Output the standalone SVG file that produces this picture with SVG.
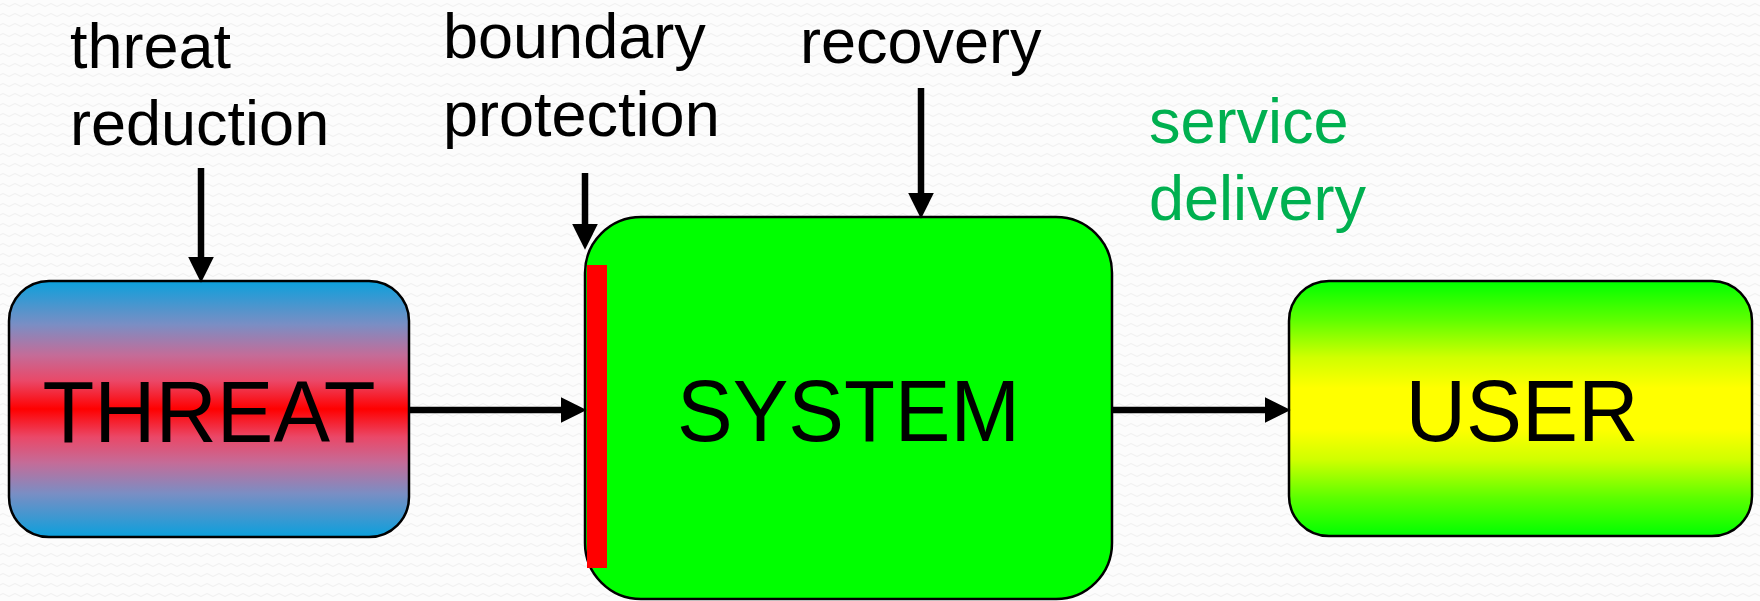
<svg xmlns="http://www.w3.org/2000/svg" width="1760" height="601" viewBox="0 0 1760 601">
<defs>
<pattern id="bgwave" width="12" height="10" patternUnits="userSpaceOnUse">
<rect width="12" height="10" fill="#fcfcfc"/>
<path d="M0,5 Q3,2 6,5 T12,5" fill="none" stroke="#efefef" stroke-width="1"/>
</pattern>
<linearGradient id="gThreat" x1="0" y1="0" x2="0" y2="1">
<stop offset="0" stop-color="#0ba0dc"/>
<stop offset="0.17" stop-color="#7a8ec4"/>
<stop offset="0.29" stop-color="#c46c98"/>
<stop offset="0.39" stop-color="#ea4868"/>
<stop offset="0.5" stop-color="#ff0000"/>
<stop offset="0.61" stop-color="#ea4868"/>
<stop offset="0.71" stop-color="#c46c98"/>
<stop offset="0.83" stop-color="#7a8ec4"/>
<stop offset="1" stop-color="#0ba0dc"/>
</linearGradient>
<linearGradient id="gUser" x1="0" y1="0" x2="0" y2="1">
<stop offset="0" stop-color="#00ff00"/>
<stop offset="0.15" stop-color="#5cff00"/>
<stop offset="0.3" stop-color="#d0ff00"/>
<stop offset="0.42" stop-color="#ffff00"/>
<stop offset="0.58" stop-color="#ffff00"/>
<stop offset="0.7" stop-color="#d0ff00"/>
<stop offset="0.85" stop-color="#5cff00"/>
<stop offset="1" stop-color="#00ff00"/>
</linearGradient>
<marker id="ah" markerUnits="userSpaceOnUse" markerWidth="26" markerHeight="26" viewBox="0 0 24 24" refX="4" refY="12" orient="auto">
<path d="M0,0 L24,12 L0,24 Z" fill="#000"/>
</marker>
</defs>
<style>
.lbl{font-family:"Liberation Sans",Arial,sans-serif;font-size:63px;fill:#000}
.grn{fill:#00b050}
.big{font-family:"Liberation Sans",Arial,sans-serif;font-size:88px;fill:#000;text-anchor:middle}
.box{stroke:#000;stroke-width:2.5}
.conn{stroke:#000;stroke-width:6.5;fill:none;marker-end:url(#ah)}
</style>
<rect width="1760" height="601" fill="url(#bgwave)"/>

<g id="label-threat-reduction">
<text class="lbl" x="70" y="68">threat</text>
<text class="lbl" x="70" y="145">reduction</text>
</g>
<g id="label-boundary-protection">
<text class="lbl" x="443" y="58">boundary</text>
<text class="lbl" x="443" y="136">protection</text>
</g>
<g id="label-recovery">
<text class="lbl" x="800" y="63">recovery</text>
</g>
<g id="label-service-delivery">
<text class="lbl grn" x="1149" y="143">service</text>
<text class="lbl grn" x="1149" y="220">delivery</text>
</g>

<g id="threat">
<rect class="box" x="9" y="281" width="400" height="256" rx="40" ry="40" fill="url(#gThreat)"/>
<text class="big" x="209" y="442" textLength="333" lengthAdjust="spacingAndGlyphs">THREAT</text>
</g>
<g id="system">
<rect class="box" x="585" y="217" width="527" height="382" rx="56" ry="56" fill="#00ff00"/>
<rect x="587" y="265" width="20" height="303" fill="#ff0000"/>
<text class="big" x="848.5" y="441" textLength="343" lengthAdjust="spacingAndGlyphs">SYSTEM</text>
</g>
<g id="user">
<rect class="box" x="1289" y="281" width="463" height="255" rx="40" ry="40" fill="url(#gUser)"/>
<text class="big" x="1522" y="441" textLength="233" lengthAdjust="spacingAndGlyphs">USER</text>
</g>

<g id="connectors">
<line class="conn" x1="201" y1="168" x2="201" y2="261"/>
<line class="conn" x1="585" y1="173" x2="585" y2="228"/>
<line class="conn" x1="921" y1="88" x2="921" y2="197"/>
<line class="conn" x1="409" y1="410" x2="565" y2="410"/>
<line class="conn" x1="1112" y1="410" x2="1269" y2="410"/>
</g>
</svg>
